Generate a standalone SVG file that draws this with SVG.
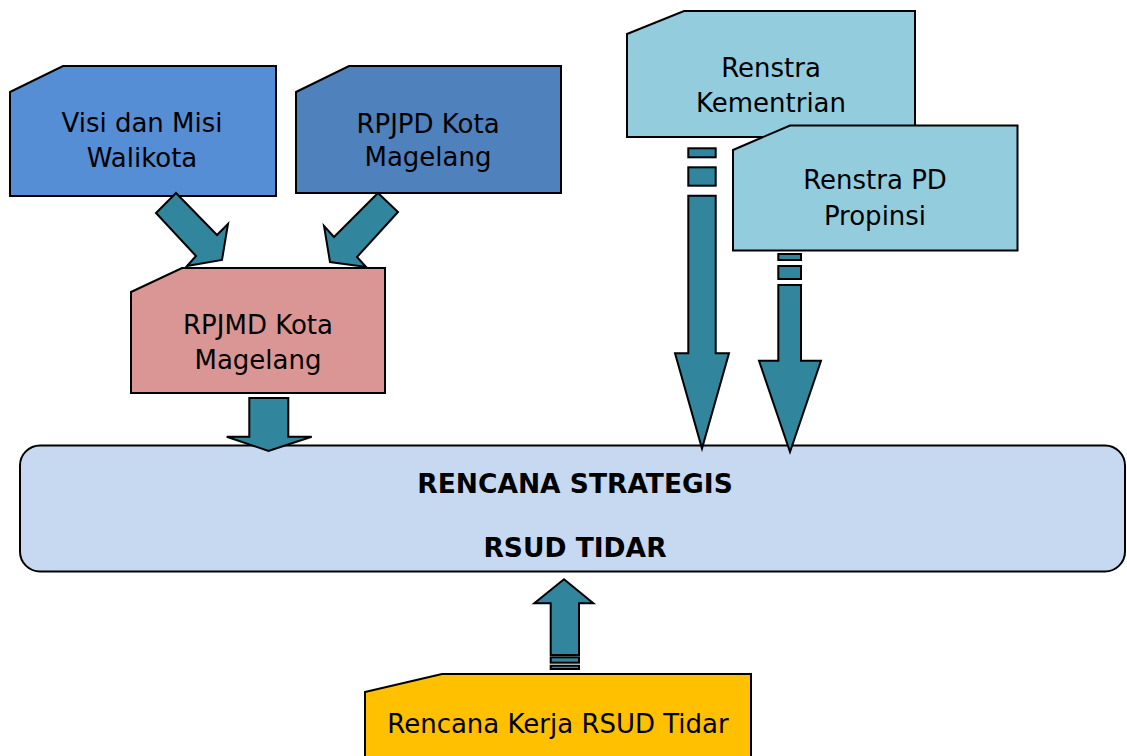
<svg xmlns="http://www.w3.org/2000/svg" width="1127" height="756" viewBox="0 0 1127 756">
<style>
.card{stroke:#000;stroke-width:2;stroke-linejoin:miter}
.lbl{font-family:"DejaVu Sans",Verdana,sans-serif;font-size:26px;fill:#000;text-anchor:middle}
.bold{font-family:"DejaVu Sans",Verdana,sans-serif;font-size:26.5px;font-weight:bold;fill:#000;text-anchor:middle}
.arr{fill:#31859C;stroke:#000;stroke-width:2;stroke-linejoin:miter}
</style>
<rect width="1127" height="756" fill="#fff"/>
<g id="node-visi">
<polygon class="card" fill="#558ED5" points="10,92 63,66 276,66 276,196 10,196"/>
<text class="lbl" x="142" y="132">Visi dan Misi</text>
<text class="lbl" x="142" y="167">Walikota</text>
</g>
<g id="node-rpjpd">
<polygon class="card" fill="#4F81BD" points="296,92 349,66 561,66 561,193 296,193"/>
<text class="lbl" x="428" y="132.5">RPJPD Kota</text>
<text class="lbl" x="428" y="166">Magelang</text>
</g>
<g id="node-rpjmd">
<polygon class="card" fill="#D99694" points="131,292 182,268 385,268 385,393 131,393"/>
<text class="lbl" x="258" y="334">RPJMD Kota</text>
<text class="lbl" x="258" y="368.5">Magelang</text>
</g>
<g id="node-renstra-kementrian">
<polygon class="card" fill="#93CDDD" points="627,34 684,11 915,11 915,137 627,137"/>
<text class="lbl" x="771" y="77">Renstra</text>
<text class="lbl" x="771" y="111.5">Kementrian</text>
</g>
<g id="node-renstra-pd">
<polygon class="card" fill="#93CDDD" points="733,150 790,125.5 1017.5,125.5 1017.5,250.5 733,250.5"/>
<text class="lbl" x="875" y="188.5">Renstra PD</text>
<text class="lbl" x="875" y="225">Propinsi</text>
</g>
<g id="node-renstra-rsud">
<rect class="card" fill="#C6D9F1" x="20" y="445.5" width="1105" height="126" rx="20" ry="20" stroke-width="3"/>
<text class="bold" x="575" y="493">RENCANA STRATEGIS</text>
<text class="bold" x="575" y="556.5">RSUD TIDAR</text>
</g>
<g id="node-renja">
<polygon class="card" fill="#FFC000" points="365,692 442,674 751,674 751,760 365,760"/>
<text class="lbl" x="558" y="732.5">Rencana Kerja RSUD Tidar</text>
</g>
<g id="connectors">
<polygon class="arr" points="176,193 217,235 228,224 222,260 187,266 196,256 156,213"/>
<polygon class="arr" points="378,193 398,212 357,257 366,267 330,262 324,226 334,237"/>
<polygon class="arr" points="249.3,398 288.3,398 288.3,436.7 311.7,436.7 268.5,451 226.7,436.7 249.3,436.7"/>
<rect class="arr" x="688.3" y="148.3" width="27.4" height="9"/>
<rect class="arr" x="688.3" y="167.3" width="27.4" height="18.4"/>
<polygon class="arr" points="688.3,195.7 715.7,195.7 715.7,353.3 729,353.3 702,448.5 675,353.3 688.3,353.3"/>
<rect class="arr" x="778.3" y="254" width="22.7" height="6"/>
<rect class="arr" x="778.3" y="266" width="22.7" height="13"/>
<polygon class="arr" points="778.3,285 801,285 801,360.7 821,360.7 790,452 759,360.7 778.3,360.7"/>
<polygon class="arr" points="550.7,655 579,655 579,603.3 593.3,603.3 564,579.3 534.3,603.3 550.7,603.3"/>
<rect class="arr" x="550.7" y="657.3" width="28.3" height="5.4"/>
<rect class="arr" x="550.7" y="665.7" width="28.3" height="3.3"/>
</g>
</svg>
